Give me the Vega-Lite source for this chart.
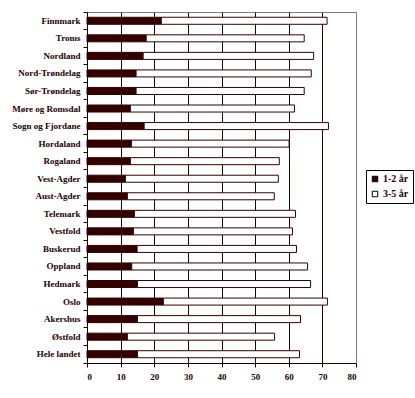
{
  "$schema": "https://vega.github.io/schema/vega-lite/v6.json",
  "autosize": "none",
  "width": 269,
  "height": 351,
  "padding": {"left": 87, "top": 12, "right": 59, "bottom": 35},
  "background": "#ffffff",
  "config": {
    "view": {"stroke": "#808080", "strokeWidth": 1},
    "font": "Liberation Serif",
    "axis": {
      "labelFont": "Liberation Serif",
      "labelFontWeight": "bold",
      "labelFontSize": 9,
      "labelColor": "#1a0000",
      "domainColor": "#1a0000",
      "tickColor": "#1a0000",
      "title": null
    },
    "legend": {
      "labelFont": "Liberation Serif",
      "labelFontWeight": "bold",
      "labelFontSize": 10,
      "labelColor": "#1a0000"
    }
  },
  "data": {
    "values": [
      {"fylke": "Finnmark", "gruppe": "1-2 år", "verdi": 22.1},
      {"fylke": "Finnmark", "gruppe": "3-5 år", "verdi": 49.3},
      {"fylke": "Troms", "gruppe": "1-2 år", "verdi": 17.6},
      {"fylke": "Troms", "gruppe": "3-5 år", "verdi": 47.0},
      {"fylke": "Nordland", "gruppe": "1-2 år", "verdi": 16.7},
      {"fylke": "Nordland", "gruppe": "3-5 år", "verdi": 50.7},
      {"fylke": "Nord-Trøndelag", "gruppe": "1-2 år", "verdi": 14.6},
      {"fylke": "Nord-Trøndelag", "gruppe": "3-5 år", "verdi": 52.1},
      {"fylke": "Sør-Trøndelag", "gruppe": "1-2 år", "verdi": 14.6},
      {"fylke": "Sør-Trøndelag", "gruppe": "3-5 år", "verdi": 50.0},
      {"fylke": "Møre og Romsdal", "gruppe": "1-2 år", "verdi": 12.9},
      {"fylke": "Møre og Romsdal", "gruppe": "3-5 år", "verdi": 48.8},
      {"fylke": "Sogn og Fjordane", "gruppe": "1-2 år", "verdi": 17.0},
      {"fylke": "Sogn og Fjordane", "gruppe": "3-5 år", "verdi": 54.8},
      {"fylke": "Hordaland", "gruppe": "1-2 år", "verdi": 13.2},
      {"fylke": "Hordaland", "gruppe": "3-5 år", "verdi": 46.9},
      {"fylke": "Rogaland", "gruppe": "1-2 år", "verdi": 12.9},
      {"fylke": "Rogaland", "gruppe": "3-5 år", "verdi": 44.3},
      {"fylke": "Vest-Agder", "gruppe": "1-2 år", "verdi": 11.4},
      {"fylke": "Vest-Agder", "gruppe": "3-5 år", "verdi": 45.5},
      {"fylke": "Aust-Agder", "gruppe": "1-2 år", "verdi": 12.0},
      {"fylke": "Aust-Agder", "gruppe": "3-5 år", "verdi": 43.7},
      {"fylke": "Telemark", "gruppe": "1-2 år", "verdi": 14.1},
      {"fylke": "Telemark", "gruppe": "3-5 år", "verdi": 47.9},
      {"fylke": "Vestfold", "gruppe": "1-2 år", "verdi": 13.8},
      {"fylke": "Vestfold", "gruppe": "3-5 år", "verdi": 47.3},
      {"fylke": "Buskerud", "gruppe": "1-2 år", "verdi": 14.9},
      {"fylke": "Buskerud", "gruppe": "3-5 år", "verdi": 47.4},
      {"fylke": "Oppland", "gruppe": "1-2 år", "verdi": 13.3},
      {"fylke": "Oppland", "gruppe": "3-5 år", "verdi": 52.3},
      {"fylke": "Hedmark", "gruppe": "1-2 år", "verdi": 15.0},
      {"fylke": "Hedmark", "gruppe": "3-5 år", "verdi": 51.5},
      {"fylke": "Oslo", "gruppe": "1-2 år", "verdi": 22.7},
      {"fylke": "Oslo", "gruppe": "3-5 år", "verdi": 48.8},
      {"fylke": "Akershus", "gruppe": "1-2 år", "verdi": 15.0},
      {"fylke": "Akershus", "gruppe": "3-5 år", "verdi": 48.5},
      {"fylke": "Østfold", "gruppe": "1-2 år", "verdi": 12.0},
      {"fylke": "Østfold", "gruppe": "3-5 år", "verdi": 43.8},
      {"fylke": "Hele landet", "gruppe": "1-2 år", "verdi": 15.0},
      {"fylke": "Hele landet", "gruppe": "3-5 år", "verdi": 48.2}
    ]
  },
  "mark": {"type": "bar", "height": {"band": 0.4}, "stroke": "#330000", "strokeWidth": 1},
  "encoding": {
    "y": {
      "field": "fylke",
      "type": "nominal",
      "sort": null,
      "scale": {"paddingInner": 0, "paddingOuter": 0},
      "axis": {
        "bandPosition": 1,
        "tickExtra": true,
        "tickSize": 4,
        "labelPadding": 3,
        "grid": false
      }
    },
    "x": {
      "field": "verdi",
      "type": "quantitative",
      "stack": "zero",
      "scale": {"domain": [0, 80], "nice": false},
      "axis": {
        "values": [0, 10, 20, 30, 40, 50, 60, 70, 80],
        "grid": true,
        "gridColor": {"condition": {"test": "datum.value === 80", "value": "#808080"}, "value": "#2a0000"},
        "gridWidth": 1,
        "tickSize": 4,
        "labelPadding": 5
      }
    },
    "color": {
      "field": "gruppe",
      "type": "nominal",
      "scale": {"domain": ["1-2 år", "3-5 år"], "range": ["#330000", "#ffffff"]},
      "legend": {
        "title": null,
        "orient": "none",
        "legendX": 279,
        "legendY": 158,
        "strokeColor": "#000000",
        "padding": 4,
        "symbolType": "square",
        "symbolSize": 30,
        "symbolStrokeColor": "#000000",
        "symbolStrokeWidth": 1,
        "rowPadding": 5,
        "labelOffset": 3
      }
    },
    "order": {"field": "gruppe", "sort": "ascending"}
  }
}
